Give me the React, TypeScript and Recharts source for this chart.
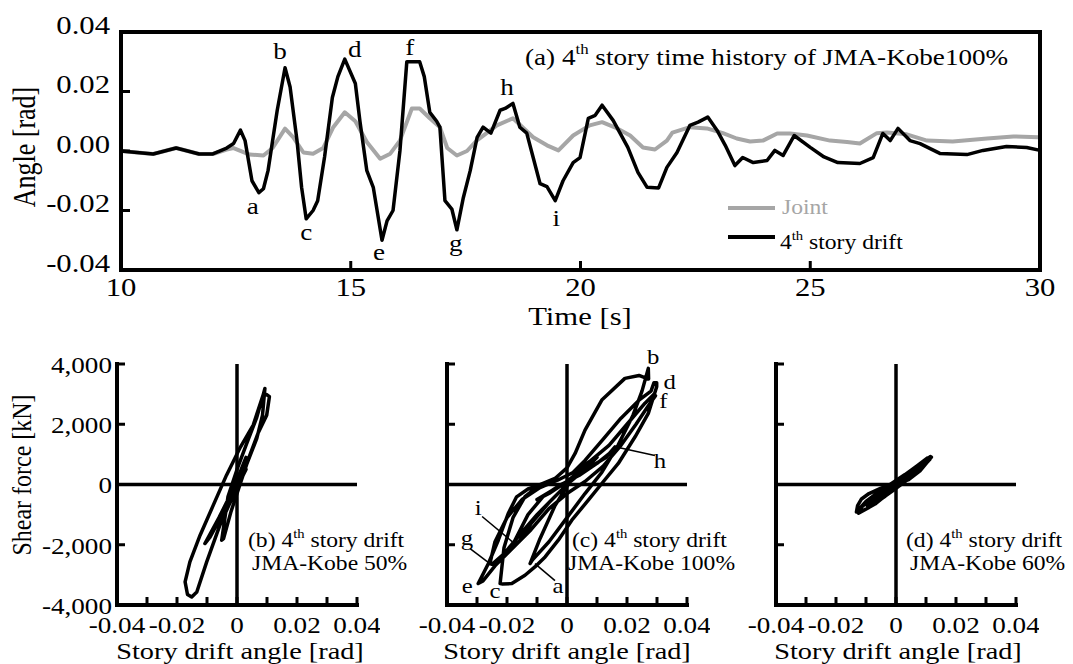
import React from 'react';
import { LineChart, Line, XAxis, YAxis, ReferenceLine } from 'recharts';

const FONT = "'Liberation Serif', 'Times New Roman', Times, serif";
const SX = 1.18; // horizontal stretch of glyphs in the reference
const JOINT_COLOR = '#a6a6a6';
const DRIFT_COLOR = '#000000';

// ---------------- (a) time history ----------------
const timeTicks = [10, 15, 20, 25, 30];
const angleTicks = [-0.04, -0.02, 0, 0.02, 0.04];
const angleTickLabels = ['-0.04', '-0.02', '0.00', '0.02', '0.04'];

const driftTime = [
  10.0, 10.35, 10.7, 11.2, 11.7, 12.0, 12.3, 12.45, 12.6, 12.7, 12.85, 13.0, 13.1, 13.2, 13.4, 13.57,
  13.68, 13.83, 13.93, 14.03, 14.18, 14.28, 14.43, 14.6, 14.72, 14.87, 15.1, 15.2, 15.35, 15.49, 15.68,
  15.79, 15.92, 16.07, 16.22, 16.5, 16.6, 16.72, 16.87, 16.94, 17.05, 17.2, 17.31, 17.45, 17.6, 17.75,
  17.88, 18.05, 18.25, 18.36, 18.53, 18.68, 18.83, 18.97, 19.12, 19.27, 19.45, 19.62, 19.84, 19.99,
  20.17, 20.32, 20.47, 20.71, 21.03, 21.25, 21.45, 21.7, 21.88, 22.1, 22.38, 22.56, 22.77, 22.97, 23.15,
  23.36, 23.53, 23.76, 24.06, 24.23, 24.41, 24.65, 25.0, 25.3, 25.6, 26.08, 26.37, 26.58, 26.74, 26.91,
  27.17, 27.39, 27.82, 28.41, 28.76, 29.27, 29.71, 30.0,
];
const driftAngle = [
  0.0, -0.0005, -0.001, 0.001, -0.001, -0.001, 0.001, 0.0025, 0.007, 0.0035, -0.01, -0.014, -0.0127, -0.0066, 0.0137, 0.028,
  0.0215, 0.0035, -0.0122, -0.0228, -0.02, -0.0167, -0.002, 0.018, 0.025, 0.0309, 0.0227, 0.01, -0.0066, -0.0122, -0.03,
  -0.0235, -0.02, 0.0, 0.03, 0.03, 0.025, 0.013, 0.01, 0.008, -0.0167, -0.0195, -0.0265, -0.0157, -0.0066, 0.0046,
  0.008, 0.006, 0.0137, 0.0143, 0.016, 0.008, 0.006, -0.0022, -0.011, -0.012, -0.0167, -0.01, -0.0039, -0.0022,
  0.011, 0.012, 0.0154, 0.0103, 0.0012, -0.0072, -0.0122, -0.0124, -0.0055, -0.0005, 0.0086, 0.0097, 0.0114, 0.007, 0.0019,
  -0.0049, -0.0022, -0.0039, -0.0032, 0.0002, -0.0015, 0.0052, 0.0012, -0.002, -0.0039, -0.0042, -0.0022, 0.0059, 0.0035, 0.0076,
  0.0035, 0.0025, -0.0008, -0.0012, 0.0002, 0.0015, 0.0012, 0.0002,
];

const jointTime = [
  10.0, 10.35, 10.7, 11.2, 11.7, 12.0, 12.3, 12.45, 12.8, 13.1, 13.3, 13.57, 13.75, 13.97, 14.18, 14.4,
  14.62, 14.87, 15.1, 15.35, 15.64, 15.86, 16.07, 16.33, 16.5, 16.72, 16.94, 17.1, 17.31, 17.53, 17.74,
  18.18, 18.53, 18.97, 19.27, 19.52, 19.84, 20.2, 20.47, 20.8, 21.08, 21.36, 21.62, 21.88, 22.0, 22.38,
  22.75, 23.1, 23.4, 23.69, 23.97, 24.28, 24.56, 24.93, 25.43, 25.8, 26.08, 26.45, 26.67, 27.1, 27.54,
  28.1, 28.85, 29.42, 29.96,
];
const jointAngle = [
  0.0, -0.0005, -0.001, 0.001, -0.001, -0.001, 0.0005, 0.001, -0.0012, -0.0015, 0.001, 0.0075, 0.0046, -0.0005, -0.0009, 0.001,
  0.008, 0.013, 0.01, 0.003, -0.0026, -0.0009, 0.0035, 0.0143, 0.0143, 0.011, 0.008, 0.001, -0.0015, 0.0, 0.0035,
  0.0086, 0.011, 0.0046, 0.0019, 0.0002, 0.0052, 0.0086, 0.0097, 0.0076, 0.0052, 0.0012, 0.0005, 0.0035, 0.0062, 0.008,
  0.0076, 0.006, 0.0042, 0.0032, 0.0035, 0.0059, 0.0059, 0.0052, 0.0035, 0.003, 0.0025, 0.006, 0.0062, 0.0056, 0.0035,
  0.0032, 0.0042, 0.0049, 0.0046,
];

const peakLetters = ['a', 'b', 'c', 'd', 'e', 'f', 'g', 'h', 'i'];
const peakTime = [13.0, 13.57, 14.03, 14.87, 15.68, 16.35, 17.31, 18.53, 19.45];
const peakAngle = [-0.014, 0.028, -0.0228, 0.0309, -0.03, 0.03, -0.0265, 0.016, -0.0167];
// label offsets (px) from each peak
const peakLabelDx = [-6, -5, 0, 10, -3, -3, -1, -6, 1];
const peakLabelDy = [14, -16, 13, -10, 12, -15, 13, -16, 18];

// ---------------- (b)-(d) hysteresis ----------------
const driftTicks = [-0.04, -0.03, -0.02, -0.01, 0, 0.01, 0.02, 0.03, 0.04];
const driftTickLabels = ['-0.04', '', '-0.02', '', '0', '', '0.02', '', '0.04'];
const shearTicks = [-4000, -2000, 0, 2000, 4000];
const shearTickLabels = ['-4,000', '-2,000', '0', '2,000', '4,000'];

// [story drift angle (rad), shear force (kN)]
const loopB: [number, number][] = [
  [0, 0], [0.002, 400], [0.003, 900], [0.001, 400], [-0.002, -300], [-0.006, -1100], [-0.0107, -1960],
  [-0.009, -1750], [-0.006, -1200], [-0.002, -400], [0.0027, 532], [0.0066, 1530], [0.0085, 2300], [0.0093, 3190],
  [0.0087, 2968], [0.0065, 2200], [0.003, 1300], [0.0, 500], [-0.003, -400], [-0.0051, -1850],
  [-0.0045, -1800], [-0.002, -900], [0.001, 0], [0.004, 900], [0.007, 1700], [0.0099, 2303], [0.0108, 2913],
  [0.0098, 2990], [0.0087, 2968], [0.0054, 1972], [0.0009, 1196], [-0.0035, 310], [-0.0079, -686], [-0.0123, -1684],
  [-0.0157, -2570], [-0.0173, -3234], [-0.0165, -3650], [-0.0151, -3733],
  [-0.0134, -3567], [-0.0101, -2570], [-0.0057, -1351], [-0.0012, -354], [0.0015, 200], [0.003, 500], [0.001, 300],
  [-0.001, -100], [0, 0],
];

const loopC: [number, number][] = [
  [0, 0], [0.003, 300], [0.001, 100], [-0.004, -700], [-0.009, -1800], [-0.0123, -2625],
  [-0.0115, -2500], [-0.006, -1900], [0.0, -1100], [0.006, -300], [0.0116, 400], [0.017, 1300], [0.022, 2300], [0.025, 3100], [0.0271, 3854],
  [0.0272, 3500], [0.024, 3620], [0.0193, 3522], [0.0116, 2803], [0.006, 1805], [0.0027, 1030], [0.0, 550], [-0.004, 200], [-0.009, 0],
  [-0.014, -400], [-0.018, -1100], [-0.021, -2100], [-0.0223, -3290],
  [-0.0215, -3300], [-0.0184, -3289], [-0.014, -3012], [-0.0107, -2735], [-0.0073, -2403], [-0.0029, -1849], [0.0016, -1184],
  [0.0071, -520], [0.0116, 33], [0.0171, 698], [0.0227, 1584], [0.0271, 2360], [0.0299, 3245], [0.0299, 3380],
  [0.029, 3380], [0.028, 3100], [0.024, 2800], [0.018, 2200], [0.012, 1500], [0.006, 800], [0.002, 400], [-0.003, 150],
  [-0.008, 30], [-0.013, -150], [-0.0168, -409], [-0.0196, -963], [-0.0229, -1849], [-0.0262, -2624], [-0.0296, -3289],
  [-0.028, -3200], [-0.024, -2700], [-0.019, -2200], [-0.012, -1500], [-0.006, -800], [0.0, -300], [0.006, 100], [0.012, 600],
  [0.018, 1300], [0.023, 2000], [0.027, 2600], [0.0295, 2950],
  [0.029, 3000], [0.026, 2700], [0.02, 2000], [0.014, 1300], [0.008, 800], [0.003, 450], [-0.003, 150], [-0.009, -100],
  [-0.015, -500], [-0.02, -1100], [-0.024, -1900], [-0.0257, -2625],
  [-0.025, -2650], [-0.021, -2300], [-0.016, -1700], [-0.01, -1000], [-0.004, -400], [0.002, 200], [0.008, 600], [0.013, 900], [0.016, 1250],
  [0.015, 1100], [0.01, 700], [0.004, 300], [-0.002, 0], [-0.008, -400], [-0.013, -1000], [-0.0179, -1960],
  [-0.016, -1900], [-0.012, -1300], [-0.006, -600], [0.0, 0], [0.006, 500], [0.01, 900], [0.005, 500], [0.0, 100],
  [-0.005, -200], [-0.01, -500], [-0.006, -300], [0.0, 100], [0.005, 400], [0.002, 200], [-0.002, -50], [0.0, 100],
];

const loopD: [number, number][] = [
  [0, 0], [0.004, 150], [0.008, 450], [0.0118, 910], [0.0105, 880], [0.007, 620], [0.003, 330], [-0.002, 0],
  [-0.006, -260], [-0.01, -560], [-0.0132, -913], [-0.0128, -700], [-0.0115, -480], [-0.009, -300], [-0.005, -120],
  [0.0, 60], [0.004, 330], [0.008, 660], [0.0105, 860], [0.0115, 930], [0.0108, 780], [0.008, 520], [0.004, 200],
  [0.0, -100], [-0.004, -420], [-0.008, -700], [-0.0125, -950], [-0.009, -760], [-0.005, -480], [-0.001, -200],
  [0.003, 100], [0.007, 400], [0.0105, 760], [0.0112, 820], [0.009, 720], [0.005, 430], [0.001, 150], [-0.003, -130],
  [-0.008, -450], [-0.0118, -780], [-0.011, -870], [-0.007, -650], [-0.003, -330], [0.001, -50], [0.005, 250],
  [0.0085, 560], [0.008, 600], [0.004, 330], [0.0, 50], [-0.004, -230], [-0.008, -560], [-0.0095, -720],
  [-0.007, -580], [-0.003, -280], [0.001, 0], [0.005, 330], [0.003, 250], [-0.001, 0], [-0.005, -300],
  [-0.003, -230], [0, 0],
];

// letters on loop (c): anchor points on the curve
const cLetters = ['b', 'd', 'f', 'h', 'a', 'c', 'e', 'g', 'i'];
const cLetterX = [0.0271, 0.0299, 0.0295, 0.016, -0.0123, -0.0223, -0.0296, -0.0257, -0.0179];
const cLetterF = [3854, 3380, 2950, 1250, -2625, -3290, -3289, -2625, -1960];
const cLetterDx = [5, 13, 8, 45, 28, -5, -11, -23, -35];
const cLetterDy = [-11, -1, 6, 14, 23, 8, 3, -25, -35];
// leader lines on loop (c): [x1, F1, x2, F2]
const cLeaders: [number, number, number, number][] = [
  [0.016, 1250, 0.0293, 963],
  [-0.0107, -2625, -0.004, -3190],
  [-0.0323, -2126, -0.0257, -2625],
  [-0.0283, -1063, -0.0183, -1894],
];

// ---------------- helpers ----------------
type STextProps = {
  x: number; y: number; size: number; anchor?: 'start' | 'middle' | 'end';
  fill?: string; rotate?: number; children?: React.ReactNode;
};
function SText({ x, y, size, anchor = 'middle', fill = '#000', rotate = 0, children }: STextProps) {
  const tf = `translate(${x} ${y}) scale(${SX} 1)` + (rotate ? ` rotate(${rotate})` : '');
  return (
    <text transform={tf} fontSize={size} fontFamily={FONT} textAnchor={anchor} dominantBaseline="central" fill={fill}>
      {children}
    </text>
  );
}

function Ordinal({ size, rest }: { size: number; rest: string }) {
  return (
    <>
      <tspan>4</tspan>
      <tspan fontSize={size * 0.62} dy={-size * 0.38}>th</tspan>
      <tspan dy={size * 0.38}>{rest}</tspan>
    </>
  );
}

const AXIS_LINE = { stroke: '#000', strokeWidth: 4, strokeLinecap: 'square' as const };

// top-chart ticks
const TopBottomTick = (p: any) => (
  <g>
    <line x1={p.x} x2={p.x} y1={p.y} y2={p.y - 9} stroke="#000" strokeWidth={3} />
    <SText x={p.x} y={p.y + 17} size={26}>{String(p.payload.value)}</SText>
  </g>
);
const TopTopTick = (p: any) => (
  <g><line x1={p.x} x2={p.x} y1={p.y} y2={p.y + 9} stroke="#000" strokeWidth={3} /></g>
);
const TopLeftTick = (p: any) => {
  const idx = angleTicks.indexOf(p.payload.value);
  return (
    <g>
      <line x1={p.x} x2={p.x + 9} y1={p.y} y2={p.y} stroke="#000" strokeWidth={3} />
      <SText x={p.x - 11} y={p.y - 7} size={26} anchor="end">{angleTickLabels[idx] ?? ''}</SText>
    </g>
  );
};
const TopRightTick = (p: any) => (
  <g><line x1={p.x} x2={p.x - 9} y1={p.y} y2={p.y} stroke="#000" strokeWidth={3} /></g>
);

// hysteresis ticks
const HBottomTick = (p: any) => {
  const idx = driftTicks.indexOf(p.payload.value);
  const lab = driftTickLabels[idx] ?? '';
  return (
    <g>
      <line x1={p.x} x2={p.x} y1={p.y} y2={p.y - 8} stroke="#000" strokeWidth={3} />
      {lab ? <SText x={p.x} y={p.y + 20} size={23}>{lab}</SText> : null}
    </g>
  );
};
const HLeftTickLabeled = (p: any) => {
  const idx = shearTicks.indexOf(p.payload.value);
  return (
    <g>
      <line x1={p.x} x2={p.x + 8} y1={p.y} y2={p.y} stroke="#000" strokeWidth={3} />
      <SText x={p.x - 5} y={p.y + 1} size={23} anchor="end">{shearTickLabels[idx] ?? ''}</SText>
    </g>
  );
};
const HLeftTickPlain = (p: any) => (
  <g><line x1={p.x} x2={p.x + 8} y1={p.y} y2={p.y} stroke="#000" strokeWidth={3} /></g>
);

// ---------------- charts ----------------
function TimeHistory() {
  const drift = driftTime.map((t, i) => ({ t, v: driftAngle[i] }));
  const joint = jointTime.map((t, i) => ({ t, v: jointAngle[i] }));
  const peaks = peakTime.map((t, i) => ({ t, v: peakAngle[i], letter: peakLetters[i] }));
  const renderPeak = (p: any) => (
    <g key={`pk-${p.index}`}>
      <SText x={p.cx + peakLabelDx[p.index]} y={p.cy + peakLabelDy[p.index]} size={23}>{p.payload.letter}</SText>
    </g>
  );
  return (
    <div style={{ position: 'absolute', left: 0, top: 0 }}>
      <LineChart width={1073} height={310} margin={{ top: 2, right: 3, bottom: 0, left: 0 }}>
        <XAxis type="number" dataKey="t" domain={[10, 30]} ticks={timeTicks} interval={0} height={40}
          tickSize={0} tickMargin={0} axisLine={AXIS_LINE} tick={TopBottomTick} />
        <XAxis xAxisId="top" orientation="top" type="number" dataKey="t" domain={[10, 30]} ticks={timeTicks}
          interval={0} height={30} tickSize={0} tickMargin={0} axisLine={AXIS_LINE} tick={TopTopTick} />
        <YAxis type="number" domain={[-0.04, 0.04]} ticks={angleTicks} interval={0} width={121}
          tickSize={0} tickMargin={0} axisLine={AXIS_LINE} tick={TopLeftTick} />
        <YAxis yAxisId="right" orientation="right" type="number" domain={[-0.04, 0.04]} ticks={angleTicks}
          interval={0} width={30} tickSize={0} tickMargin={0} axisLine={AXIS_LINE} tick={TopRightTick} />
        <Line data={joint} dataKey="v" type="linear" stroke={JOINT_COLOR} strokeWidth={4} dot={false}
          activeDot={false} isAnimationActive={false} strokeLinejoin="round" />
        <Line data={drift} dataKey="v" type="linear" stroke={DRIFT_COLOR} strokeWidth={3.5} dot={false}
          activeDot={false} isAnimationActive={false} strokeLinejoin="round" />
        <Line data={peaks} dataKey="v" type="linear" stroke="none" dot={renderPeak}
          activeDot={false} isAnimationActive={false} />
      </LineChart>
    </div>
  );
}

function Hysteresis({ left, loop, labeled, extra }: {
  left: number; loop: [number, number][]; labeled: boolean; extra?: React.ReactNode;
}) {
  const data = loop.map(([x, F]) => ({ x, F }));
  return (
    <div style={{ position: 'absolute', left, top: 330 }}>
      <LineChart width={380} height={334} margin={{ top: 34, right: 23, bottom: 0, left: 0 }}>
        <XAxis type="number" dataKey="x" domain={[-0.04, 0.04]} ticks={driftTicks} interval={0} height={59}
          tickSize={0} tickMargin={0} axisLine={AXIS_LINE} tick={HBottomTick} />
        <YAxis type="number" domain={[-4000, 4000]} ticks={shearTicks} interval={0} width={117}
          tickSize={0} tickMargin={0} axisLine={AXIS_LINE} tick={labeled ? HLeftTickLabeled : HLeftTickPlain} />
        <ReferenceLine x={0} stroke="#000" strokeWidth={3.5} />
        <ReferenceLine y={0} stroke="#000" strokeWidth={3.5} />
        <Line data={data} dataKey="F" type="linear" stroke="#000" strokeWidth={3.5} dot={false}
          activeDot={false} isAnimationActive={false} strokeLinejoin="round" />
        {extra}
      </LineChart>
    </div>
  );
}

function LoopCExtras() {
  const letters = cLetterX.map((x, i) => ({ x, F: cLetterF[i], letter: cLetters[i] }));
  const renderLetter = (p: any) => (
    <g key={`cl-${p.index}`}>
      <SText x={p.cx + cLetterDx[p.index]} y={p.cy + cLetterDy[p.index]} size={21}>{p.payload.letter}</SText>
    </g>
  );
  return [
    ...cLeaders.map(([x1, F1, x2, F2], i) => (
      <Line key={`ld-${i}`} data={[{ x: x1, F: F1 }, { x: x2, F: F2 }]} dataKey="F" type="linear" stroke="#000"
        strokeWidth={1.5} dot={false} activeDot={false} isAnimationActive={false} />
    )),
    <Line key="letters" data={letters} dataKey="F" type="linear" stroke="none" dot={renderLetter}
      activeDot={false} isAnimationActive={false} />,
  ];
}

function Overlay() {
  return (
    <svg width={1073} height={664} style={{ position: 'absolute', left: 0, top: 0, pointerEvents: 'none' }}>
      <SText x={25} y={147} size={26} rotate={-90}>Angle [rad]</SText>
      <SText x={580} y={316} size={26}>Time [s]</SText>
      <SText x={525} y={57} size={23} anchor="start">
        <tspan>(a) </tspan>
        <Ordinal size={23} rest=" story time history of JMA-Kobe100%" />
      </SText>
      {/* legend */}
      <line x1={728} x2={775} y1={208} y2={208} stroke={JOINT_COLOR} strokeWidth={4} />
      <SText x={782} y={208} size={20} anchor="start" fill={JOINT_COLOR}>Joint</SText>
      <line x1={728} x2={775} y1={237} y2={237} stroke={DRIFT_COLOR} strokeWidth={4} />
      <SText x={780} y={243} size={20} anchor="start"><Ordinal size={20} rest=" story drift" /></SText>

      <SText x={22} y={475} size={24} rotate={-90}>Shear force [kN]</SText>
      <SText x={240} y={651} size={24}>Story drift angle [rad]</SText>
      <SText x={567} y={651} size={24}>Story drift angle [rad]</SText>
      <SText x={898} y={651} size={24}>Story drift angle [rad]</SText>

      <SText x={248} y={541} size={20} anchor="start"><tspan>(b) </tspan><Ordinal size={20} rest=" story drift" /></SText>
      <SText x={252} y={564} size={20} anchor="start">JMA-Kobe 50%</SText>
      <SText x={572} y={541} size={20} anchor="start"><tspan>(c) </tspan><Ordinal size={20} rest=" story drift" /></SText>
      <SText x={568} y={564} size={20} anchor="start">JMA-Kobe 100%</SText>
      <SText x={906} y={541} size={20} anchor="start"><tspan>(d) </tspan><Ordinal size={20} rest=" story drift" /></SText>
      <SText x={910} y={564} size={20} anchor="start">JMA-Kobe 60%</SText>
    </svg>
  );
}

export default function App() {
  return (
    <div style={{ position: 'absolute', left: 0, top: 0, width: 1073, height: 664, background: '#fff', overflow: 'hidden' }}>
      <TimeHistory />
      <Hysteresis left={0} loop={loopB} labeled={true} />
      <Hysteresis left={330} loop={loopC} labeled={false} extra={LoopCExtras()} />
      <Hysteresis left={659} loop={loopD} labeled={false} />
      <Overlay />
    </div>
  );
}
